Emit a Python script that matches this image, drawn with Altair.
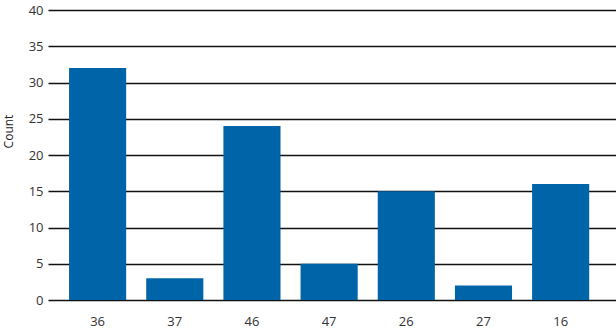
import altair as alt
import pandas as pd

categories = ["36", "37", "46", "47", "26", "27", "16"]
counts = [32, 3, 24, 5, 15, 2, 16]

df = pd.DataFrame({"cat": categories, "count": counts})

FONT = "Open Sans"

chart = alt.Chart(df).mark_bar(color="#0064A9").encode(
    x=alt.X("cat:N", sort=categories, title=None,
            scale=alt.Scale(paddingInner=0.26, paddingOuter=0.31, align=0.44),
            axis=alt.Axis(labelAngle=0, ticks=False, domain=False, grid=False,
                          labelPadding=15, labelFont=FONT, labelFontSize=13,
                          labelColor="#333333")),
    y=alt.Y("count:Q", title="Count",
            scale=alt.Scale(domain=[0, 40], nice=False),
            axis=alt.Axis(values=[0, 5, 10, 15, 20, 25, 30, 35, 40], ticks=False,
                          domain=False, grid=True, gridColor="#111111", gridWidth=1.5,
                          labelPadding=5, labelFont=FONT, labelFontSize=13,
                          labelColor="#333333", titleFont=FONT, titleFontSize=12,
                          titleFontWeight="normal", titleColor="#222222",
                          titleAngle=270, titleX=-40, titleY=121,
                          titleBaseline="middle", titleAlign="center")),
).properties(
    width=568, height=290,
    autosize=alt.AutoSizeParams(type="none"),
    padding={"left": 48, "top": 10, "right": 0, "bottom": 31},
).configure_view(stroke=None).configure_axis(gridOpacity=1, zindex=0)

chart.save("out.html", embed_options={"renderer": "svg", "actions": False})
